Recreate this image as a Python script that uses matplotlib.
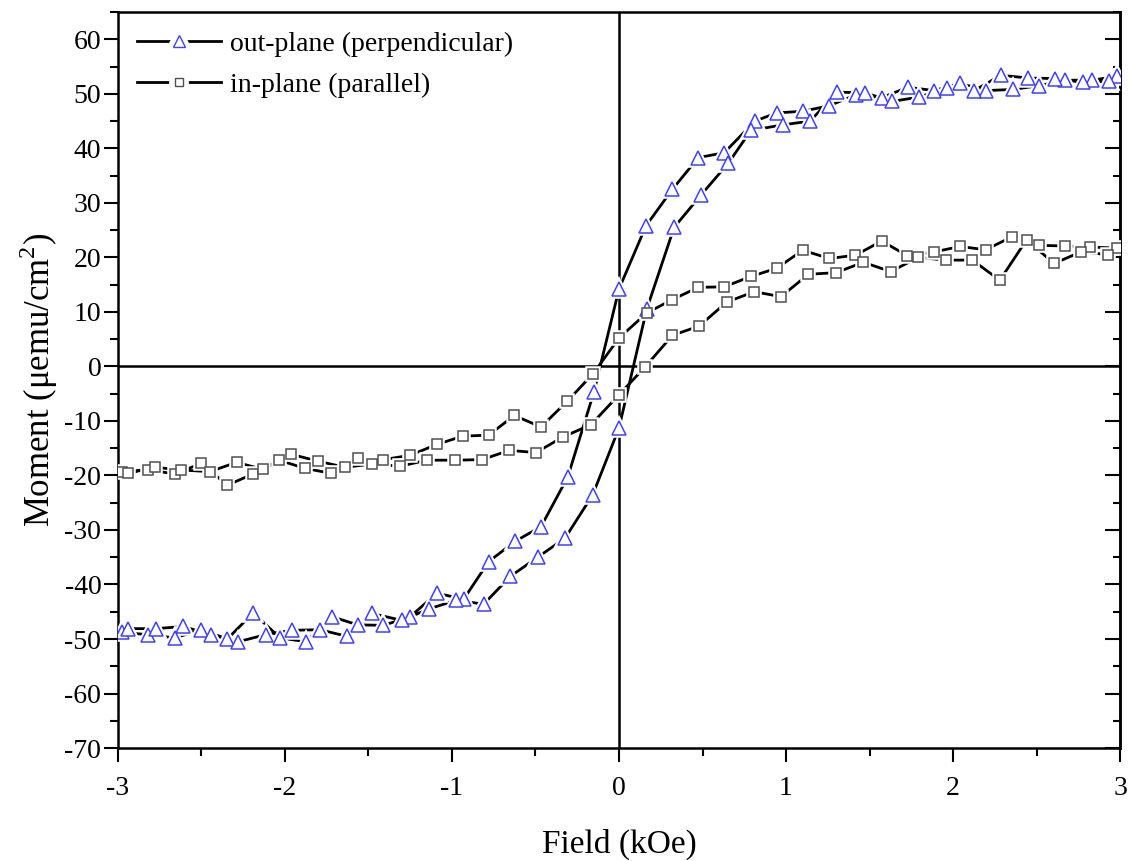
import matplotlib
matplotlib.use("Agg")
from matplotlib import pyplot as plt
from matplotlib.legend_handler import HandlerTuple
from matplotlib.lines import Line2D
from matplotlib.ticker import MultipleLocator

# out-plane (perpendicular): descending branch (+3 -> -3), then ascending (-3 -> +3)
perp_down_field = [2.984, 2.83, 2.67, 2.515, 2.357, 2.20, 2.042, 1.886, 1.729, 1.573,
                   1.417, 1.257, 1.10, 0.944, 0.814, 0.63, 0.475, 0.32, 0.162, 0.0,
                   -0.15, -0.307, -0.467, -0.623, -0.78, -0.93, -1.09, -1.25, -1.41,
                   -1.565, -1.72, -1.875, -2.03, -2.19, -2.345, -2.50, -2.66, -2.82, -2.975]
perp_down_moment = [53.2, 52.5, 52.5, 51.5, 50.8, 50.6, 51.9, 50.6, 51.2, 49.3,
                    49.8, 47.8, 46.8, 46.5, 45.0, 39.2, 38.3, 32.5, 25.8, 14.2,
                    -4.7, -20.3, -29.4, -32.1, -35.8, -42.7, -41.6, -45.9, -47.5,
                    -47.4, -45.9, -50.5, -49.8, -45.2, -50.0, -48.3, -49.8, -49.2, -48.8]
perp_up_field = [-2.94, -2.77, -2.61, -2.445, -2.28, -2.115, -1.96, -1.79, -1.63, -1.48,
                 -1.30, -1.14, -0.976, -0.81, -0.65, -0.487, -0.323, -0.158, 0.0, 0.166,
                 0.33, 0.49, 0.655, 0.79, 0.98, 1.144, 1.307, 1.473, 1.633, 1.796,
                 1.962, 2.126, 2.287, 2.451, 2.61, 2.777, 2.936]
perp_up_moment = [-48.1, -48.1, -47.7, -49.2, -50.5, -49.2, -48.4, -48.3, -49.5, -45.3,
                  -46.6, -44.5, -42.9, -43.6, -38.5, -35.0, -31.5, -23.6, -11.3, 10.5,
                  25.5, 31.4, 37.3, 43.3, 44.3, 45.0, 50.3, 50.2, 48.6, 49.4,
                  51.1, 50.6, 53.4, 52.9, 52.8, 52.1, 52.3]

# in-plane (parallel)
par_down_field = [2.984, 2.82, 2.67, 2.515, 2.355, 2.195, 2.042, 1.886, 1.727, 1.573,
                  1.416, 1.26, 1.10, 0.944, 0.79, 0.63, 0.475, 0.315, 0.166, 0.0,
                  -0.154, -0.31, -0.467, -0.627, -0.78, -0.936, -1.09, -1.25, -1.41,
                  -1.56, -1.725, -1.88, -2.036, -2.19, -2.345, -2.50, -2.66, -2.82, -2.975]
par_down_moment = [21.7, 21.9, 22.1, 22.2, 23.8, 21.4, 22.0, 21.0, 20.3, 23.0,
                   20.4, 19.8, 21.3, 18.0, 16.5, 14.6, 14.5, 12.2, 9.8, 5.2,
                   -1.3, -6.4, -11.1, -9.0, -12.6, -12.8, -14.3, -16.3, -17.1,
                   -16.8, -19.6, -18.7, -17.2, -19.7, -21.8, -17.8, -19.7, -19.0, -19.3]
par_up_field = [-2.94, -2.78, -2.62, -2.45, -2.29, -2.13, -1.964, -1.80, -1.64, -1.48,
                -1.31, -1.15, -0.98, -0.82, -0.657, -0.497, -0.333, -0.168, 0.0, 0.156,
                0.32, 0.48, 0.645, 0.81, 0.97, 1.134, 1.30, 1.463, 1.627, 1.793,
                1.956, 2.116, 2.28, 2.44, 2.605, 2.766, 2.93]
par_up_moment = [-19.6, -18.5, -19.0, -19.3, -17.6, -18.9, -16.1, -17.4, -18.5, -17.9,
                 -18.3, -17.2, -17.2, -17.1, -15.4, -15.8, -12.9, -10.7, -5.2, -0.1,
                 5.7, 7.4, 11.8, 13.7, 12.8, 16.9, 17.2, 19.1, 17.4, 20.0,
                 19.5, 19.5, 15.8, 23.2, 18.9, 21.0, 20.5]

labels = ["out-plane (perpendicular)", "in-plane (parallel)"]

plt.rcParams["font.family"] = ["Liberation Serif", "DejaVu Serif"]
plt.rcParams["mathtext.fontset"] = "custom"
plt.rcParams["mathtext.rm"] = "Liberation Serif"
plt.rcParams["axes.unicode_minus"] = False

fig = plt.figure(figsize=(11.34, 8.61), dpi=100)
ax = fig.add_axes([0.104, 0.1312, 0.8837, 0.8548])

series = [
    (perp_down_field + perp_up_field, perp_down_moment + perp_up_moment, "^", 9.5, "#4040ff"),
    (par_down_field + par_up_field, par_down_moment + par_up_moment, "s", 7, "#505050"),
]

handles = []
for (fx, my, mk, ms, col), lab in zip(series, labels):
    ax.plot(fx, my, color="black", lw=2.0, zorder=3)
    # white halo so the line stops short of each marker
    ax.plot(fx, my, ls="none", marker=mk, ms=ms, mfc="white", mec="white", mew=4, zorder=4)
    ax.plot(fx, my, ls="none", marker=mk, ms=ms, mfc="white", mec=col, mew=1.1, zorder=5)
    h_line = Line2D([], [], color="black", lw=2.0)
    h_halo = Line2D([], [], ls="none", marker=mk, ms=ms, mfc="white", mec="white", mew=7)
    h_mark = Line2D([], [], ls="none", marker=mk, ms=ms * 0.85, mfc="white", mec=col, mew=1.0)
    handles.append((h_line, h_halo, h_mark))

ax.axhline(0, color="black", lw=1.8, zorder=2)
ax.axvline(0, color="black", lw=1.8, zorder=2)

ax.set_xlim(-3, 3)
ax.set_ylim(-70, 65)
ax.xaxis.set_major_locator(MultipleLocator(1))
ax.xaxis.set_minor_locator(MultipleLocator(0.5))
ax.yaxis.set_major_locator(MultipleLocator(10))
ax.yaxis.set_minor_locator(MultipleLocator(5))

for s in ax.spines.values():
    s.set_linewidth(1.8)

ax.tick_params(which="both", direction="out", top=False, right=False, width=1.5,
               labelsize=20)
ax.tick_params(which="major", length=10)
ax.tick_params(which="minor", length=5.5)
ax.tick_params(axis="x", pad=10)
ax.tick_params(axis="y", pad=2)

sec = ax.secondary_yaxis("right")
sec.yaxis.set_major_locator(MultipleLocator(10))
sec.yaxis.set_minor_locator(MultipleLocator(5))
sec.tick_params(which="both", direction="in", width=1.5, labelright=False)
sec.tick_params(which="major", length=10.5)
sec.tick_params(which="minor", length=5)
sec.spines["right"].set_linewidth(1.8)

ax.set_xlabel("Field (kOe)", fontsize=24, labelpad=20)
ax.set_ylabel("Moment (\u03bcemu/cm$^{2}$)", fontsize=25, labelpad=3)

ax.legend(handles, labels, loc="upper left", frameon=False, fontsize=20,
          handlelength=3.0, handletextpad=0.35, labelspacing=0.55,
          borderaxespad=0.3, handler_map={tuple: HandlerTuple(ndivide=1)})

fig.savefig("out.png", dpi=100)
